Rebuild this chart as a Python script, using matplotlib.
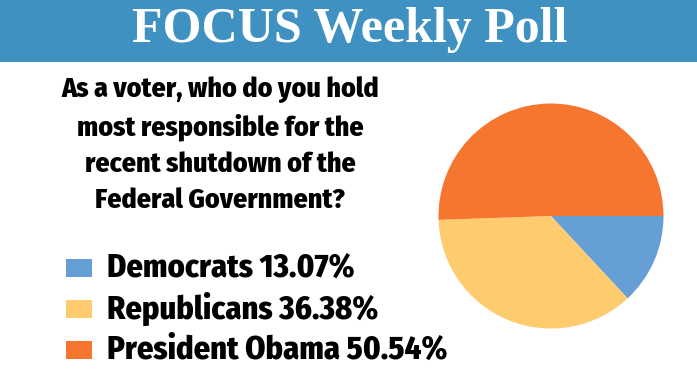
import matplotlib.pyplot as plt
from matplotlib.patches import Rectangle

labels = ["Democrats", "Republicans", "President Obama"]
shares = [13.07, 36.38, 50.54]
colors = ["#659fd6", "#fecb6e", "#f6752f"]

title = "FOCUS Weekly Poll"
question = ("As a voter, who do you hold\nmost responsible for the\n"
            "recent shutdown of the\nFederal Government?")

W, H = 697, 376
fig = plt.figure(figsize=(W / 100, H / 100), dpi=100)
fig.patch.set_facecolor("white")

narrow = ["Fira Sans Condensed", "DejaVu Sans"]

# header band
fig.patches.append(Rectangle((0, 1 - 62 / H), 1, 62 / H, transform=fig.transFigure,
                             facecolor="#3f91c2", edgecolor="none"))
fig.text(350 / W, 1 - 42 / H, title, color="white", ha="center", va="baseline",
         fontsize=36, fontweight="bold", family=["Liberation Serif", "DejaVu Serif"])

fig.text(220 / W, 1 - 145 / H, question, ha="center", va="center", ma="center",
         fontsize=20, fontweight=800, family=narrow, linespacing=1.47)

# legend
for i, (lab, val, col) in enumerate(zip(labels, shares, colors)):
    yc = 268 + i * 41
    fig.patches.append(Rectangle((66 / W, 1 - (yc + 9) / H), 26 / W, 18 / H,
                                 transform=fig.transFigure, facecolor=col, edgecolor="none"))
    fig.text(107 / W, 1 - yc / H, f"{lab} {val:.2f}%", ha="left", va="center",
             fontsize=23.3, fontweight=800, family=narrow)

# pie
cx, cy, r = 551, 216, 112.5
ax = fig.add_axes([(cx - r) / W, 1 - (cy + r) / H, 2 * r / W, 2 * r / H])
ax.pie(shares, colors=colors, startangle=0, counterclock=False, radius=1,
       wedgeprops={"linewidth": 0})
ax.set_xlim(-1, 1)
ax.set_ylim(-1, 1)
ax.set_aspect("equal")
ax.axis("off")

fig.savefig("out.png", dpi=100)
